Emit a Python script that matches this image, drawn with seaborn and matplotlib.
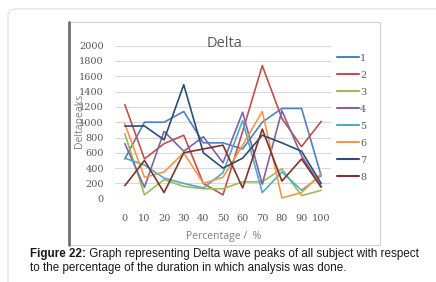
import matplotlib
matplotlib.use('Agg')
import matplotlib.pyplot as plt
import seaborn as sns
import pandas as pd
from matplotlib.patches import FancyBboxPatch, Rectangle
from matplotlib.lines import Line2D

# ---- data ----
percentages = [0, 10, 20, 30, 40, 50, 60, 70, 80, 90, 100]
series_names = ["1", "2", "3", "4", "5", "6", "7", "8"]
s1 = [520, 1000, 1000, 1140, 730, 730, 650, 1000, 1180, 1180, 300]
s2 = [1230, 520, 720, 830, 200, 50, 880, 1740, 1050, 680, 1010]
s3 = [850, 50, 250, 160, 130, 130, 220, 220, 390, 40, 110]
s4 = [720, 150, 880, 620, 810, 470, 1130, 190, 1150, 560, 160]
s5 = [530, 440, 270, 200, 140, 340, 1020, 80, 350, 110, 300]
s6 = [980, 280, 350, 600, 200, 280, 700, 1140, 10, 80, 330]
s7 = [950, 950, 770, 1490, 600, 400, 530, 830, 730, 620, 200]
s8 = [170, 500, 80, 600, 650, 700, 140, 910, 230, 520, 150]
all_series = [s1, s2, s3, s4, s5, s6, s7, s8]
colors = ["#4F81BD", "#C0504D", "#9BBB59", "#8064A2", "#4BACC6", "#F79646", "#2C4D75", "#7F3330"]
y_ticks = [0, 200, 400, 600, 800, 1000, 1200, 1400, 1600, 1800, 2000]
title = "Delta"
x_label = "Percentage /  %"
y_label = "Deltapeaks"
caption_bold = "Figure 22:"
caption_rest1 = " Graph representing Delta wave peaks of all subject with respect"
caption_line2 = "to the percentage of the duration in which analysis was done."

rows = []
for name, vals in zip(series_names, all_series):
    for p, v in zip(percentages, vals):
        rows.append({"pct": p, "val": v, "series": name})
df = pd.DataFrame(rows)

sns.set_theme(style="white")
plt.rcParams['font.family'] = ['DejaVu Sans']

W, H = 436, 282
fig = plt.figure(figsize=(W / 100, H / 100), dpi=100)
fig.patch.set_facecolor("white")

# outer rounded frame
fig.patches.append(FancyBboxPatch((8 / W, -0.2), 1.2, 1 - 9 / H + 0.2,
                                  boxstyle="round,pad=0,rounding_size=0.02",
                                  transform=fig.transFigure, facecolor="white",
                                  edgecolor="#dddddd", linewidth=0.8, zorder=-3))
# chart frame
fig.patches.append(Rectangle((69 / W, 1 - 245 / H), (380 - 69) / W, (245 - 22) / H,
                             transform=fig.transFigure, facecolor="white",
                             edgecolor="#d0d0d0", linewidth=0.8, zorder=-2))
fig.lines.append(Line2D([69 / W, 69 / W], [1 - 245 / H, 1 - 22 / H],
                        transform=fig.transFigure, color="#707070", linewidth=2, zorder=-1))

ax = fig.add_axes([115 / W, 1 - 198.7 / H, (331 - 115) / W, (198.7 - 45.7) / H])
ax.set_facecolor("none")

sns.lineplot(data=df, x="pct", y="val", hue="series", palette=colors,
             linewidth=1.2, sort=False, ax=ax, legend=False)

ax.set_xlim(-5, 105)
ax.set_ylim(0, 2000)
ax.set_xticks(percentages)
ax.set_yticks(y_ticks)
ax.set_xticklabels([str(p) for p in percentages], family="DejaVu Serif", fontsize=7, color="#595959")
ax.set_yticklabels([str(t) for t in y_ticks], family="DejaVu Serif", fontsize=7, color="#595959")
ax.tick_params(axis="x", length=0, pad=11)
ax.tick_params(axis="y", length=0, pad=8)
ax.yaxis.grid(True, color="#d9d9d9", linewidth=0.8)
ax.set_axisbelow(True)
for sp in ax.spines.values():
    sp.set_visible(False)
ax.set_xlabel("")
ax.set_ylabel("")

fig.text(225 / W, 1 - 43 / H, title, ha="center", va="center", fontsize=10.5,
         family="Open Sans", color="#595959")
fig.text(224 / W, 1 - 237 / H, x_label, ha="center", va="center", fontsize=7.5,
         family="Open Sans", color="#808080")
fig.text(79 / W, 1 - 121 / H, y_label, ha="center", va="center", fontsize=7.5,
         family="Open Sans", color="#808080", rotation=90)

handles = [Line2D([], [], color=c, linewidth=1.5) for c in colors]
fig.legend(handles, series_names, loc="upper left", bbox_to_anchor=(328 / W, 1 - 45 / H),
           frameon=False, handlelength=2.3, handletextpad=0.1, labelspacing=0.82,
           prop={"family": "DejaVu Serif", "size": 7}, labelcolor="#595959")

cap_size = 8.4
t1 = fig.text(30 / W, 1 - 257 / H, caption_bold, ha="left", va="baseline", fontsize=cap_size,
              family="Liberation Sans", weight="bold", color="#1a1a1a")
fig.canvas.draw()
ext = t1.get_window_extent()
fig.text(ext.x1 / W, 1 - 257 / H, caption_rest1, ha="left", va="baseline", fontsize=cap_size,
         family="Liberation Sans", color="#1a1a1a")
fig.text(30 / W, 1 - 271 / H, caption_line2, ha="left", va="baseline", fontsize=cap_size,
         family="Liberation Sans", color="#1a1a1a")

fig.savefig("out.png", dpi=100)
